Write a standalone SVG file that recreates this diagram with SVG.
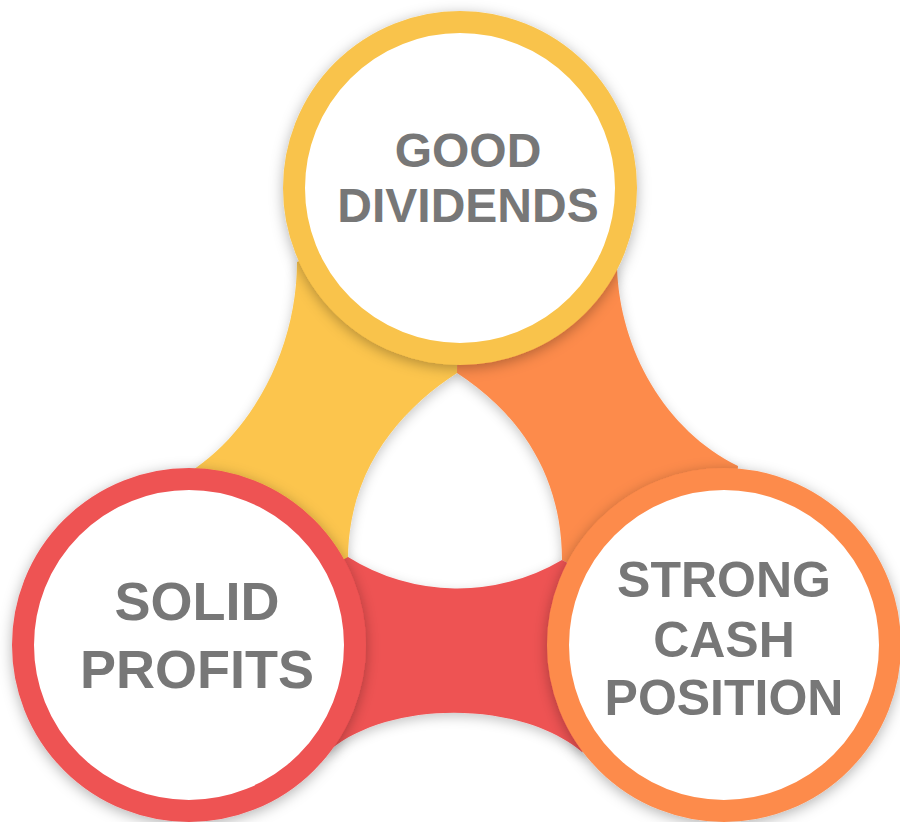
<svg xmlns="http://www.w3.org/2000/svg" width="900" height="822" viewBox="0 0 900 822">
  <defs>
    <filter id="bandShadow" x="-20%" y="-20%" width="140%" height="140%">
      <feDropShadow dx="0" dy="4" stdDeviation="6" flood-color="#000" flood-opacity="0.22"/>
    </filter>
    <filter id="ringShadow" x="-20%" y="-20%" width="140%" height="140%">
      <feDropShadow dx="0" dy="3" stdDeviation="7" flood-color="#000" flood-opacity="0.3"/>
    </filter>
  </defs>
  <style>
    .ring { fill: #ffffff; stroke-width: 22; filter: url(#ringShadow); }
    .label { font-family: "Liberation Sans", Arial, sans-serif; font-weight: bold; fill: #777777; text-anchor: middle; }
  </style>

  <!-- connecting bands -->
  <g id="connectors" filter="url(#bandShadow)">
    <path id="band-yellow" fill="#FCC54E"
          d="M460,188 L297,262 C297,345 255,430 190,472 L189,645 L348,560 C348,470 400,410 457,373 Z"/>
    <path id="band-orange" fill="#FD8B4C"
          d="M460,188 L617,268 C620,350 665,430 738,466 L724,645 L562,560 C562,470 514,410 457,373 Z"/>
    <path id="band-red" fill="#EE5253"
          d="M189,645 L330,750 C390,700 520,700 582,752 L724,645 L562,560 A206,206 0 0 1 348,557 Z"/>
  </g>

  <!-- nodes -->
  <g id="node-good-dividends">
    <circle class="ring" cx="460" cy="188" r="166" stroke="#F9C34B"/>
    <text class="label" font-size="48"><tspan x="468" y="167">GOOD</tspan><tspan x="468" y="222">DIVIDENDS</tspan></text>
  </g>
  <g id="node-solid-profits">
    <circle class="ring" cx="189" cy="645" r="166" stroke="#EE5253"/>
    <text class="label" font-size="54"><tspan x="197" y="620">SOLID</tspan><tspan x="197" y="688">PROFITS</tspan></text>
  </g>
  <g id="node-strong-cash">
    <circle class="ring" cx="724" cy="645" r="166" stroke="#FD8B4C"/>
    <text class="label" font-size="50"><tspan x="724" y="597">STRONG</tspan><tspan x="724" y="657">CASH</tspan><tspan x="724" y="715">POSITION</tspan></text>
  </g>
</svg>
